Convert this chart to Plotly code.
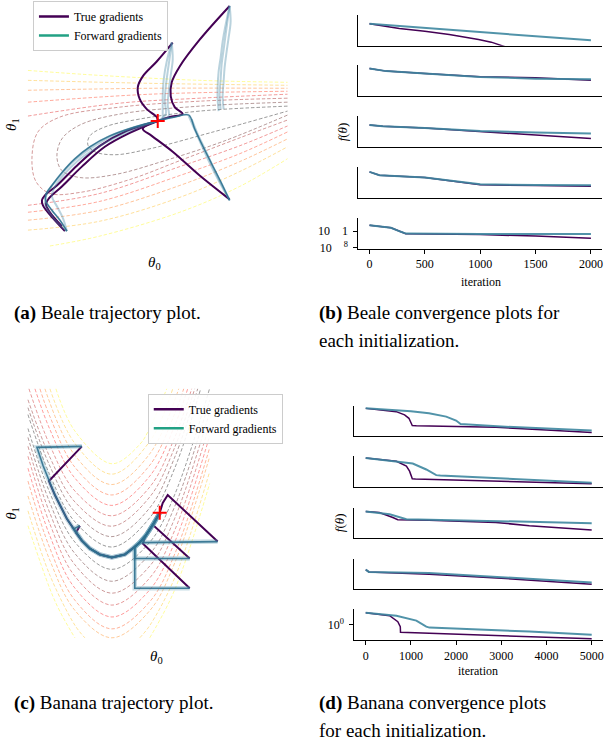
import plotly.graph_objects as go

W, H = 606, 742
SERIF = '"Liberation Serif", "Times New Roman", serif'
TRUE_COLOR = "#440154"
FWD_LEGEND = "#22a184"
FWD_CORE = "rgba(45,112,142,0.9)"
FWD_HALO = "rgba(95,155,178,0.35)"
FWD_RUN = "rgba(70,138,165,0.38)"
FWD_CONV = "rgba(62,135,160,0.9)"

# ---------------------------------------------------------------------------
# (a) Beale: parameter plane (theta0, theta1) in plot units, no ticks shown
# ---------------------------------------------------------------------------
beale_contour_level = [7, 6, 5, 4, 3, 2, 1, 0, 3, 4, 5, 6, 7]
beale_contour_t0 = [
    [28, 100, 200, 288],
    [28, 150, 288],
    [28, 150, 288],
    [28, 150, 288],
    [28, 120, 200, 288],
    [288, 200, 120, 60, 38, 32, 36, 50, 80, 130, 180, 240, 288],
    [288, 200, 120, 80, 62, 57, 62, 80, 115, 165, 225, 288],
    [288, 200, 140, 105, 90, 88, 95, 115, 150, 210, 288],
    [28, 100, 180, 240, 288],
    [28, 100, 180, 240, 288],
    [28, 100, 180, 240, 288],
    [28, 100, 180, 240, 288],
    [50, 100, 180, 240, 288],
]
beale_contour_t1 = [
    [71, 76, 81, 83],
    [81, 84, 86],
    [91, 89, 89],
    [103, 95, 92],
    [117, 104, 99, 95],
    [99, 102, 108, 118, 133, 160, 183, 195, 194, 181, 162, 139, 121],
    [103, 107, 115, 126, 140, 158, 172, 179, 176, 162, 142, 116],
    [107, 112, 120, 128, 137, 146, 153, 156, 150, 134, 112],
    [207, 195, 168, 147, 127],
    [214, 203, 177, 155, 133],
    [222, 212, 187, 163, 140],
    [232, 223, 199, 173, 148],
    [248, 238, 214, 188, 160],
]

beale_true_t0 = [
    [230, 200, 180, 172, 171, 175, 183, 170, 158],
    [173, 157, 143, 138, 140, 147, 157, 158],
    [230, 200, 173, 152, 143, 147, 158],
    [65, 53, 43, 42, 45, 57, 77, 100, 127, 158],
    [62, 50, 46, 49, 62, 82, 105, 130, 158],
]
beale_true_t1 = [
    [6, 40, 67, 83, 97, 108, 115, 118, 122],
    [43, 62, 77, 88, 100, 110, 118, 122],
    [201, 177, 153, 137, 130, 126, 122],
    [233, 220, 207, 202, 197, 187, 167, 147, 132, 122],
    [228, 214, 206, 200, 188, 168, 148, 134, 122],
]

beale_fwd_t0 = [
    [230, 228, 226, 224, 222, 221, 220, 221],
    [230, 231, 229, 227, 225, 224, 223, 224],
    [230, 226, 223, 221, 219, 218, 218, 219],
    [172, 170, 168, 166, 165, 166, 160],
    [172, 173, 171, 169, 168, 169, 162],
    [172, 167, 164, 163, 163, 163],
    [230, 222, 212, 202, 195, 189, 175, 160],
    [230, 219, 208, 199, 193, 189],
    [230, 224, 215, 206, 198, 192],
    [67, 60, 52, 46, 46, 52, 62, 75, 90, 110, 135, 158],
    [67, 63, 57, 52, 55, 64, 78, 95, 115, 138, 158],
    [67, 58, 50, 45, 48, 58, 70, 86, 105, 130, 158],
]
beale_fwd_t1 = [
    [6, 20, 35, 50, 65, 80, 95, 110],
    [6, 22, 38, 52, 68, 82, 97, 110],
    [6, 25, 42, 58, 72, 88, 100, 112],
    [43, 58, 72, 88, 102, 115, 121],
    [43, 60, 76, 92, 106, 117, 121],
    [43, 62, 80, 96, 110, 119],
    [202, 185, 165, 145, 130, 116, 118, 121],
    [202, 182, 160, 140, 126, 117],
    [202, 190, 172, 152, 135, 120],
    [233, 222, 212, 203, 196, 187, 174, 160, 148, 137, 128, 122],
    [233, 220, 208, 198, 188, 176, 162, 150, 139, 129, 122],
    [233, 225, 215, 205, 193, 180, 166, 153, 141, 130, 122],
]
beale_minimum = ([158], [122])

# ---------------------------------------------------------------------------
# (c) Banana (Rosenbrock): parameter plane in plot units
# ---------------------------------------------------------------------------
banana_contour_level = [1, 2, 3, 4, 5, 6, 7, 8, 9,
                        1, 2, 3, 4, 5, 6, 7, 8, 8, 9, 9]
banana_contour_t0 = [
    [28, 50, 75, 112, 150, 175, 201],
    [28, 50, 75, 112, 150, 175, 198],
    [28, 50, 75, 112, 150, 175, 195],
    [29, 50, 75, 112, 150, 175, 192],
    [35, 50, 75, 112, 150, 175, 188],
    [40, 50, 75, 112, 150, 175, 184],
    [45, 75, 112, 150, 179],
    [50, 75, 112, 150, 173],
    [56, 75, 112, 140, 150, 167],
    [28, 50, 75, 112, 150, 175, 210],
    [28, 50, 75, 112, 150, 175, 210],
    [28, 50, 75, 112, 150, 175, 210],
    [28, 50, 75, 112, 150, 175, 210],
    [28, 50, 75, 112, 150, 175, 210],
    [28, 50, 75, 112, 150, 175, 210],
    [28, 50, 75, 112, 150, 175, 210],
    [28, 50, 75, 85],
    [140, 150, 175, 210],
    [28, 50, 60, 75],
    [150, 175, 210],
]
banana_contour_t1 = [
    [418, 479, 526, 551.5, 522, 472, 392],
    [411, 470, 516, 541, 512, 461, 392],
    [403, 461, 506, 530.5, 501, 451, 392],
    [392, 449, 495, 520, 491, 441, 392],
    [392, 433, 482, 509.5, 480, 429, 392],
    [392, 420, 471, 499, 469, 417, 392],
    [392, 459, 488.5, 457.5, 392],
    [392, 447, 478, 445, 392],
    [392, 434.5, 467.5, 448, 431.5, 392],
    [432, 497, 546.5, 574, 546.6, 498.6, 391.5],
    [441, 507, 558, 586, 558.6, 510.6, 403.5],
    [450, 517.4, 569.3, 598, 570.6, 522.6, 415.5],
    [460, 528.3, 580.9, 610, 582.6, 534.6, 427.5],
    [472, 540.3, 592.9, 622, 594.6, 546.6, 439.5],
    [485, 552.8, 605.1, 634, 606.6, 558.6, 451.5],
    [500, 565, 615.3, 643, 615.6, 567.6, 460.5],
    [515, 580, 630.3, 643],
    [643, 630.6, 582.6, 475.5],
    [530, 593.7, 616.4, 643],
    [643, 594.6, 487.5],
]

banana_true_t0 = [
    [82, 49, 55, 60, 67, 75, 82, 90, 100, 112, 125, 133, 140, 146, 150, 155, 160],
    [80, 76, 82, 90, 100, 112, 125, 133, 140, 146, 150, 155, 160],
    [218, 168, 163, 160],
    [190, 154, 155, 160],
    [190, 143, 146, 150, 155, 160],
]
banana_true_t1 = [
    [450, 485, 499, 509, 523, 535, 545, 553, 559, 562, 559, 553, 547, 540, 534, 526, 517],
    [530, 537, 545, 553, 559, 562, 559, 553, 547, 540, 534, 526, 517],
    [546, 499, 507, 517],
    [563, 530, 526, 517],
    [593, 548, 540, 534, 526, 517],
]
banana_fwd_t0 = [
    [82, 37, 43, 49, 55, 60, 67, 75, 82, 90, 100, 112, 125, 133, 140, 146, 150, 155, 160],
    [80, 74, 82, 90, 100, 112, 125, 133, 140, 146, 150, 155, 160],
    [218, 143, 146, 150, 155, 160],
    [190, 135, 135, 140, 146, 150, 155, 160],
    [190, 135, 135, 140, 146, 150, 155, 160],
]
banana_fwd_t1 = [
    [450, 451, 469, 485, 499, 509, 523, 535, 545, 553, 559, 562, 559, 553, 547, 540, 534, 526, 517],
    [530, 533, 545, 553, 559, 562, 559, 553, 547, 540, 534, 526, 517],
    [546, 547, 540, 534, 526, 517],
    [563, 563, 552, 547, 540, 534, 526, 517],
    [593, 593, 552, 547, 540, 534, 526, 517],
]
banana_minimum = ([160], [517])

# ---------------------------------------------------------------------------
# (b), (d) convergence: log-loss (plot units) per initialization
# ---------------------------------------------------------------------------
beale_true_iter = [
    [0, 270, 500, 720, 985, 1100, 1195, 1300],
    [0, 150, 500, 1000, 1500, 2000],
    [0, 120, 500, 1000, 1500, 2000],
    [0, 90, 500, 750, 1000, 1500, 2000],
    [0, 194, 284, 328, 1000, 1500, 2000],
]
beale_true_loss = [
    [2.2, 1.72, 1.45, 1.12, 0.62, 0.35, 0.0, -0.4],
    [2.8, 2.53, 2.3, 1.97, 1.85, 1.6],
    [2.2, 2.07, 1.9, 1.55, 1.17, 0.83],
    [2.67, 2.33, 2.1, 1.73, 1.37, 1.3, 1.23],
    [2.4, 2.13, 1.73, 1.53, 1.45, 1.3, 1.07],
]
beale_fwd_iter = [
    [0, 500, 1000, 1500, 2000],
    [0, 150, 500, 1000, 1500, 2000],
    [0, 120, 500, 1000, 1500, 2000],
    [0, 90, 500, 750, 1000, 1500, 2000],
    [0, 194, 284, 328, 1000, 1500, 2000],
]
beale_fwd_loss = [
    [2.2, 1.78, 1.37, 0.95, 0.53],
    [2.8, 2.53, 2.3, 1.95, 1.77, 1.7],
    [2.2, 2.07, 1.9, 1.6, 1.43, 1.33],
    [2.67, 2.33, 2.1, 1.75, 1.42, 1.35, 1.33],
    [2.4, 2.13, 1.73, 1.55, 1.5, 1.5, 1.5],
]

banana_true_iter = [
    [0, 676, 860, 956, 1007, 1030, 1120, 2880, 4000, 5000],
    [0, 680, 900, 970, 1010, 1030, 1100, 3000, 5000],
    [0, 300, 600, 710, 1400, 2880, 3620, 5000],
    [0, 70, 1400, 2900, 5000],
    [0, 530, 710, 765, 770, 1410, 2880, 5000],
]
banana_true_loss = [
    [2.83, 2.5, 2.17, 1.83, 1.33, 1.1, 1.08, 0.93, 0.65, 0.4],
    [2.93, 2.6, 2.1, 1.6, 1.1, 0.83, 0.8, 0.6, 0.33],
    [2.7, 2.6, 2.1, 1.87, 1.83, 1.6, 1.27, 0.83],
    [2.0, 1.77, 1.53, 1.17, 0.53],
    [2.8, 2.5, 1.9, 1.4, 0.83, 0.73, 0.57, 0.17],
]
banana_fwd_iter = [
    [0, 1000, 1400, 1780, 2000, 2100, 3000, 4000, 5000],
    [0, 1040, 1340, 1560, 1650, 3000, 5000],
    [0, 530, 900, 2000, 3500, 5000],
    [0, 70, 1400, 2900, 5000],
    [0, 680, 1120, 1340, 1410, 2150, 3620, 5000],
]
banana_fwd_loss = [
    [2.83, 2.55, 2.33, 2.0, 1.6, 1.25, 1.0, 0.8, 0.6],
    [2.93, 2.37, 1.77, 1.2, 1.17, 0.85, 0.43],
    [2.7, 2.43, 1.93, 1.83, 1.7, 1.53],
    [2.0, 1.77, 1.67, 1.27, 0.7],
    [2.8, 2.5, 2.0, 1.4, 1.3, 1.17, 0.9, 0.57],
]

beale_iter_ticks = [0, 500, 1000, 1500, 2000]
banana_iter_ticks = [0, 1000, 2000, 3000, 4000, 5000]
beale_loss_ticks = [1.8, 0.1]
beale_loss_ticktext = ["10\u20031", "10\u2003<sup>8</sup>"]
banana_loss_ticks = [1.57]
banana_loss_ticktext = ["10<sup>0</sup>"]


def hot(frac, alpha):
    # matplotlib "hot" colormap, drawn translucent
    r = min(1.0, frac / 0.365)
    g = min(1.0, max(0.0, (frac - 0.365) / 0.381))
    b = min(1.0, max(0.0, (frac - 0.746) / 0.254))
    return f"rgba({round(255 * r)},{round(255 * g)},{round(255 * b)},{alpha})"


fig = go.Figure()


def line(xs, ys, ax, color, width, shape="linear", dash=None):
    fig.add_trace(go.Scatter(
        x=xs, y=ys, mode="lines", xaxis="x" + ax, yaxis="y" + ax,
        line=dict(color=color, width=width, shape=shape, dash=dash),
        hoverinfo="skip", showlegend=False,
    ))


DASH = "3.5px,2px"

# (a) Beale trajectories
for lvl, xs, ys in zip(beale_contour_level, beale_contour_t0, beale_contour_t1):
    line(xs, ys, "", hot(lvl * 0.105, 0.4), 1, "spline", DASH)
for xs, ys in zip(beale_true_t0, beale_true_t1):
    line(xs, ys, "", TRUE_COLOR, 2, "spline")
for xs, ys in zip(beale_fwd_t0, beale_fwd_t1):
    line(xs, ys, "", FWD_RUN, 2, "spline")
line(beale_fwd_t0[9], beale_fwd_t1[9], "", FWD_CORE, 1.4, "spline")
line(beale_fwd_t0[6], beale_fwd_t1[6], "", FWD_CORE, 1.2, "spline")

# (c) Banana trajectories
for lvl, xs, ys in zip(banana_contour_level, banana_contour_t0, banana_contour_t1):
    line(xs, ys, "2", hot((lvl - 1) * 0.092, 0.4), 1, "spline", DASH)
for xs, ys in zip(banana_true_t0, banana_true_t1):
    line(xs, ys, "2", TRUE_COLOR, 2)
for xs, ys in zip(banana_fwd_t0, banana_fwd_t1):
    line(xs, ys, "2", FWD_HALO, 4.5)
for xs, ys in zip(banana_fwd_t0, banana_fwd_t1):
    line(xs, ys, "2", FWD_CORE, 1.6)

for (mx, my), ax in ((beale_minimum, ""), (banana_minimum, "2")):
    fig.add_trace(go.Scatter(
        x=mx, y=my, mode="markers", xaxis="x" + ax, yaxis="y" + ax,
        marker=dict(symbol="cross-thin", size=10, line=dict(color="red", width=2)),
        hoverinfo="skip", showlegend=False,
    ))

# legend proxies
for ax, leg in (("", "legend"), ("2", "legend2")):
    for name, col in (("True gradients", TRUE_COLOR), ("Forward gradients", FWD_LEGEND)):
        fig.add_trace(go.Scatter(
            x=[None], y=[None], mode="lines", name=name, legend=leg,
            xaxis="x" + ax, yaxis="y" + ax, line=dict(color=col, width=2.5),
        ))

# (b), (d) convergence
for k in range(5):
    ax = str(3 + k)
    line(beale_true_iter[k], beale_true_loss[k], ax, TRUE_COLOR, 1.5)
    line(beale_fwd_iter[k], beale_fwd_loss[k], ax, FWD_CONV, 2)
    ax = str(8 + k)
    line(banana_true_iter[k], banana_true_loss[k], ax, TRUE_COLOR, 1.5)
    line(banana_fwd_iter[k], banana_fwd_loss[k], ax, FWD_CONV, 2)


def ydom(top, bottom):
    return [1 - bottom / H, 1 - top / H]


tickfont = dict(family=SERIF, size=12, color="black")
layout = dict(
    width=W, height=H, margin=dict(l=0, r=0, t=0, b=0),
    paper_bgcolor="white", plot_bgcolor="rgba(0,0,0,0)",
    font=dict(family=SERIF, color="black"),
    xaxis=dict(domain=[20 / W, 300 / W], range=[20, 300], visible=False, anchor="y"),
    yaxis=dict(domain=ydom(0, 255), range=[255, 0], visible=False, anchor="x"),
    xaxis2=dict(domain=[20 / W, 300 / W], range=[20, 300], visible=False, anchor="y2"),
    yaxis2=dict(domain=ydom(385, 655), range=[655, 385], visible=False, anchor="x2"),
)

beale_rows = [(15, 46), (66, 97), (117, 148), (168, 200), (220, 251)]
banana_rows = [(409, 440), (460, 491), (511.7, 542.7), (563.3, 594.3), (614.3, 645.7)]
for k in range(5):
    for first, rows, xr, xd, ticks, yticks, ytext in (
        (3, beale_rows, [-100, 2100], [359, 603], beale_iter_ticks, beale_loss_ticks, beale_loss_ticktext),
        (8, banana_rows, [-250, 5250], [355, 604], banana_iter_ticks, banana_loss_ticks, banana_loss_ticktext),
    ):
        i = first + k
        top, bottom = rows[k]
        last = k == 4
        layout[f"xaxis{i}"] = dict(
            domain=[xd[0] / W, xd[1] / W], range=xr, anchor=f"y{i}",
            showline=True, linecolor="black", linewidth=1, showgrid=False, zeroline=False,
            ticks="outside" if last else "", ticklen=4, tickcolor="black",
            tickvals=ticks, showticklabels=last, tickfont=tickfont,
        )
        layout[f"yaxis{i}"] = dict(
            domain=ydom(top, bottom), range=[0, (bottom - top) / 10], anchor=f"x{i}",
            showline=True, linecolor="black", linewidth=1, showgrid=False, zeroline=False,
            ticks="outside" if last else "", ticklen=4, tickcolor="black",
            tickvals=yticks if last else [], ticktext=ytext if last else [],
            showticklabels=last, tickfont=tickfont, ticklabelstandoff=3,
        )

legend_style = dict(
    xanchor="left", yanchor="top", bgcolor="rgba(255,255,255,0.9)",
    bordercolor="#cccccc", borderwidth=1, itemwidth=30, tracegroupgap=0,
    font=dict(family=SERIF, size=12, color="black"),
)
layout["legend"] = dict(x=33 / W, y=1 - 1 / H, **legend_style)
layout["legend2"] = dict(x=148 / W, y=1 - 397 / H, **legend_style)
fig.update_layout(**layout)


def text(s, px, py, size, angle=0, xanchor="center"):
    fig.add_annotation(
        text=s, x=px / W, y=1 - py / H, xref="paper", yref="paper",
        showarrow=False, textangle=angle, xanchor=xanchor, yanchor="middle",
        font=dict(family=SERIF, size=size, color="black"),
    )


text("<i>θ</i><sub>1</sub>", 12, 125, 15, -90)
text("<i>θ</i><sub>0</sub>", 155, 265, 15)
text("<i>θ</i><sub>1</sub>", 12, 517, 15, -90)
text("<i>θ</i><sub>0</sub>", 157, 662, 15)
text("<i>f</i>(<i>θ</i>)", 343, 133, 13, -90)
text("<i>f</i>(<i>θ</i>)", 340, 527, 13, -90)
text("iteration", 482, 284, 12)
text("iteration", 479, 676, 12)
text("<b>(a)</b> Beale trajectory plot.", 12, 316, 19, xanchor="left")
text("<b>(b)</b> Beale convergence plots for", 318, 316, 19, xanchor="left")
text("each initialization.", 318, 343, 19, xanchor="left")
text("<b>(c)</b> Banana trajectory plot.", 12, 709, 19, xanchor="left")
text("<b>(d)</b> Banana convergence plots", 318, 709, 19, xanchor="left")
text("for each initialization.", 318, 736, 19, xanchor="left")

fig.write_html(
    "out.html",
    config={"displayModeBar": False},
    post_script="document.body.style.margin = '0px';",
)
